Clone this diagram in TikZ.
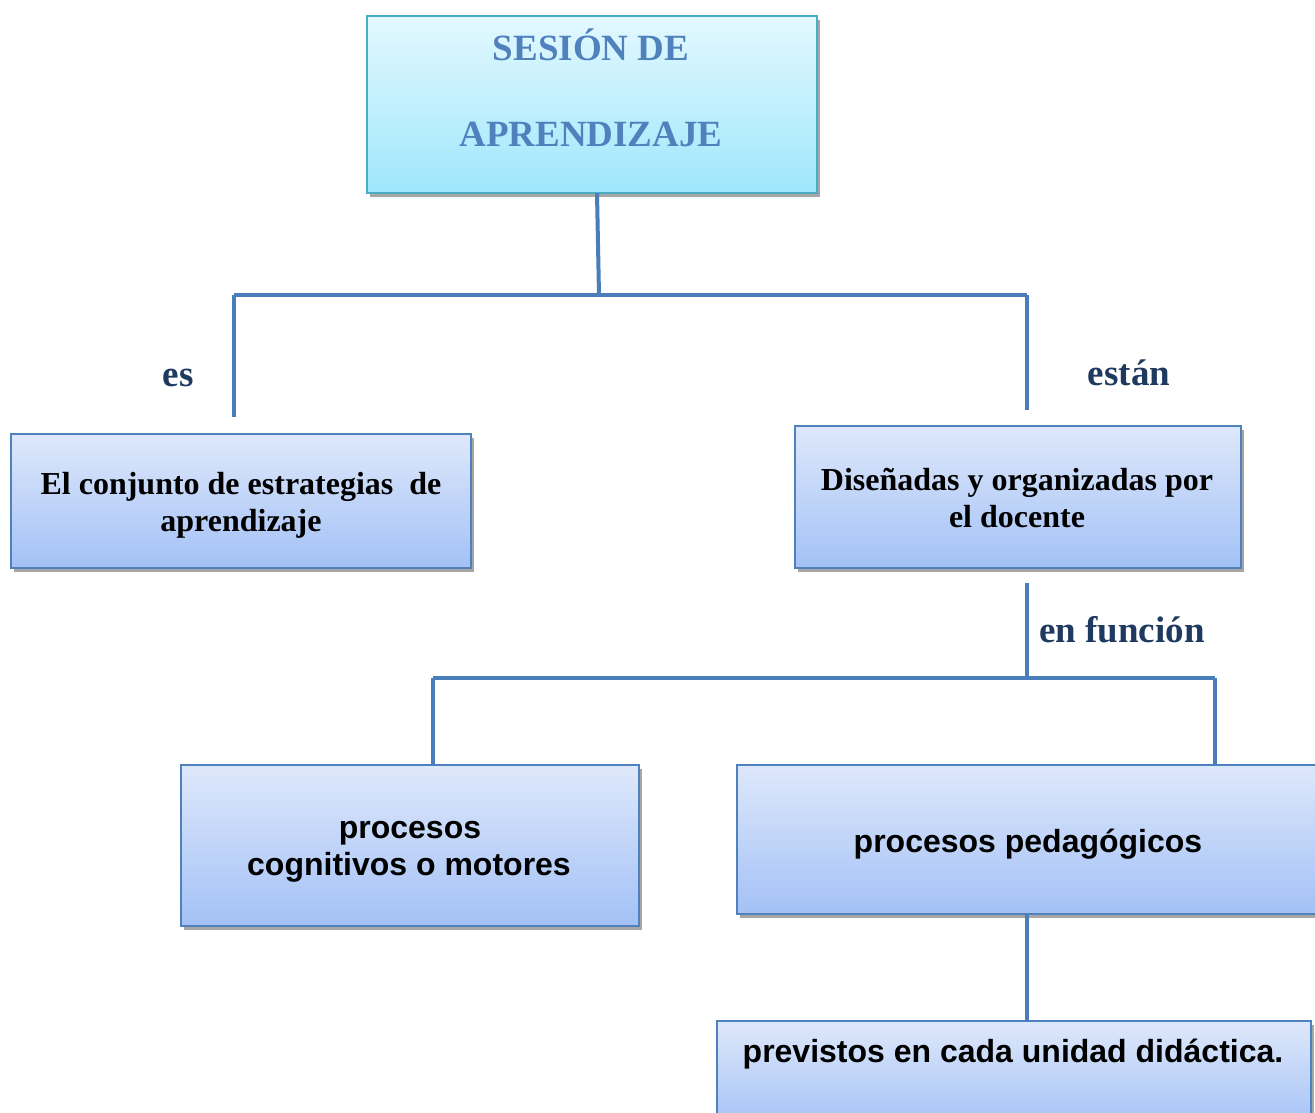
\documentclass[tikz,border=0pt]{standalone}
\usepackage{fontspec}
\setmainfont{Liberation Serif}
\newfontfamily\arialf{Liberation Sans}
\usetikzlibrary{shadows}
\definecolor{linec}{HTML}{4A7EBB}
\definecolor{boxedge}{HTML}{4F81BD}
\definecolor{topedge}{HTML}{4BACC6}
\definecolor{toptext}{HTML}{4F81BD}
\definecolor{labc}{HTML}{1F3A60}
\definecolor{cyantop}{HTML}{E3F8FE}
\definecolor{cyanbot}{HTML}{9FE7FC}
\definecolor{bluetop}{HTML}{DEE8FB}
\definecolor{bluebot}{HTML}{A3C1F6}
\tikzset{
  conn/.style={draw=linec, line width=4pt},
  topbox/.style={draw=topedge, line width=2pt, top color=cyantop, bottom color=cyanbot,
    drop shadow={shadow xshift=3pt, shadow yshift=-4pt, opacity=0.35, fill=black}},
  bbox/.style={draw=boxedge, line width=1.5pt, top color=bluetop, bottom color=bluebot,
    drop shadow={shadow xshift=3pt, shadow yshift=-4pt, opacity=0.35, fill=black}},
  toptxt/.style={text=toptext, font=\fontsize{37}{40}\selectfont\bfseries},
  sertxt/.style={text=black, font=\fontsize{32}{37}\selectfont\bfseries, align=center},
  sanstxt/.style={text=black, font=\arialf\fontsize{32}{37}\selectfont\bfseries, align=center},
  lab/.style={text=labc, font=\fontsize{37}{40}\selectfont\bfseries},
}
\begin{document}
\begin{tikzpicture}[x=1pt, y=-1pt]
\clip (0,0) rectangle (1315,1113);
\fill[white] (0,0) rectangle (1315,1113);
% boxes
\path[topbox] (367,16) rectangle (817,193);
\node[inner sep=0, minimum width=450pt, minimum height=177pt] (top) at (592,104.5) {};
\path[bbox] (11,434) rectangle (471,568);
\node[inner sep=0, minimum width=460pt, minimum height=134pt] (conj) at (241,501) {};
\path[bbox] (795,426) rectangle (1241,568);
\node[inner sep=0, minimum width=446pt, minimum height=142pt] (dis) at (1018,497) {};
\path[bbox] (181,765) rectangle (639,926);
\node[inner sep=0, minimum width=458pt, minimum height=161pt] (cog) at (410,845.5) {};
\path[bbox] (737,765) rectangle (1330,914);
\node[inner sep=0, minimum width=593pt, minimum height=149pt] (ped) at (1033.5,839.5) {};
\path[bbox] (717,1021) rectangle (1311,1130);
\node[inner sep=0, minimum width=594pt, minimum height=109pt] (prev) at (1014,1075.5) {};
% texts
\node[toptxt, anchor=base] (t1) at (591,61) {SESIÓN DE};
\node[toptxt, anchor=base] (t2) at (591,147) {APRENDIZAJE};
\node[sertxt, anchor=base] (c1) at (241,494) {El conjunto de estrategias\ \ de};
\node[sertxt, anchor=base] (c2) at (241,531) {aprendizaje};
\node[sertxt, anchor=base] (d1) at (1017,490) {Diseñadas y organizadas por};
\node[sertxt, anchor=base] (d2) at (1017,527) {el docente};
\node[sanstxt, anchor=base] (g1) at (410,838) {procesos};
\node[sanstxt, anchor=base] (g2) at (409,875) {cognitivos o motores};
\node[sanstxt, anchor=base] (p1) at (1028,852) {procesos pedagógicos};
\node[sanstxt, anchor=base] (v1) at (1013,1062) {previstos en cada unidad didáctica.};
\node[lab, anchor=base] (les) at (178,386) {es};
\node[lab, anchor=base] (lest) at (1129,385) {están};
\node[lab, anchor=base] (lfun) at (1122,642) {en función};
% connector coordinates
\coordinate (h1) at (599,295);
\coordinate (h1l) at (234,295);
\coordinate (h1r) at (1027,295);
\coordinate (e1l) at (234,417);
\coordinate (e1r) at (1027,410);
\coordinate (s2) at (1027,583);
\coordinate (h2) at (1027,678);
\coordinate (h2l) at (433,678);
\coordinate (h2r) at (1215,678);
% connectors
\draw[conn] (top.south -| 597,0) -- (h1);
\draw[conn] (h1l) -- (h1r);
\draw[conn] (h1l) -- (e1l);
\draw[conn] (h1r) -- (e1r);
\draw[conn] (s2) -- (h2);
\draw[conn] (h2l) -- (h2r);
\draw[conn] (h2l) -- (h2l |- cog.north);
\draw[conn] (h2r) -- (h2r |- ped.north);
\draw[conn] (ped.south -| 1027,0) -- (prev.north -| 1027,0);
\end{tikzpicture}
\end{document}
